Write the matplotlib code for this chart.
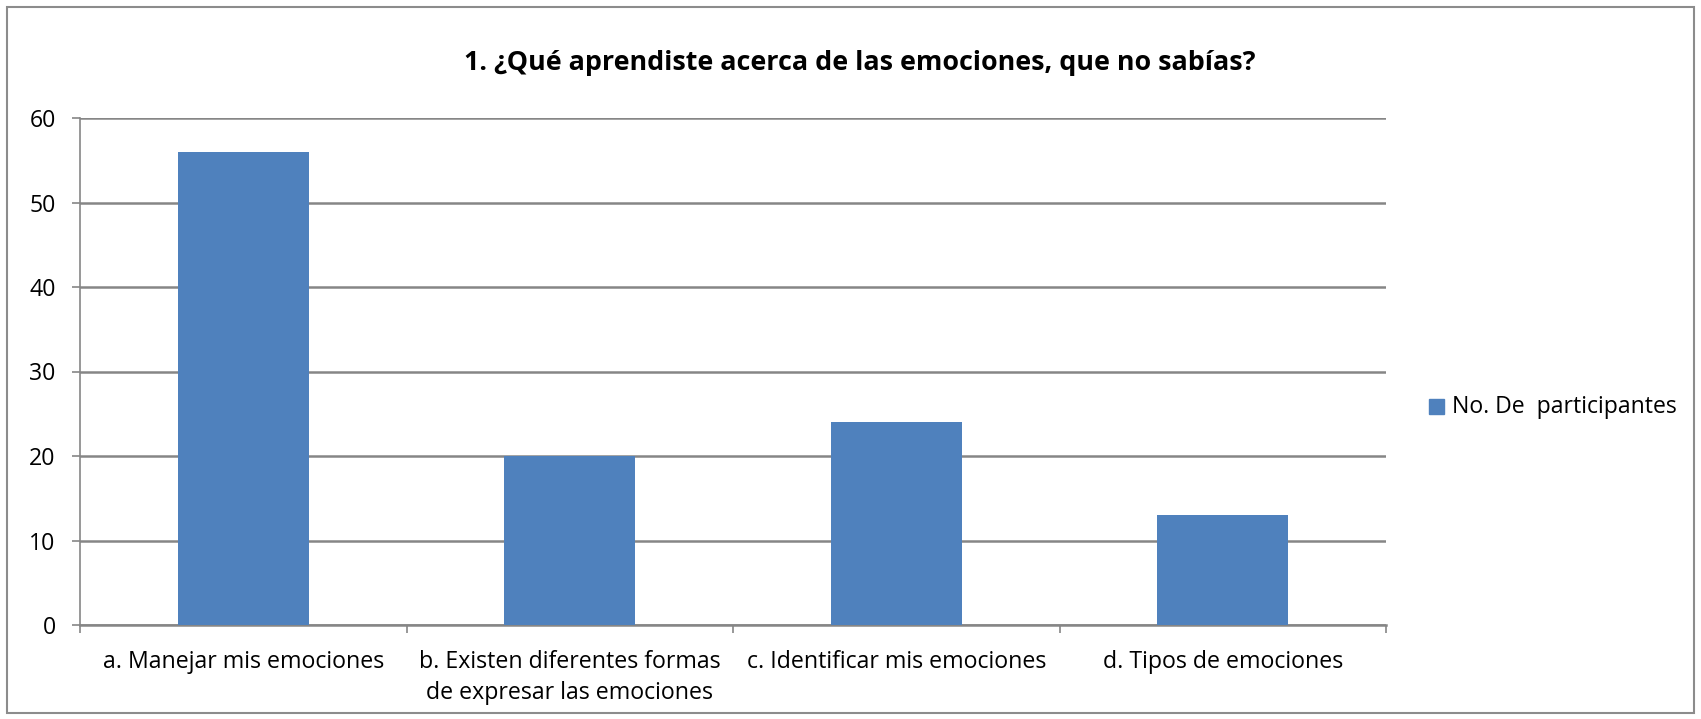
import matplotlib
matplotlib.use("Agg")
import matplotlib.pyplot as plt
from matplotlib.patches import Rectangle

categories = ["a. Manejar mis emociones",
              "b. Existen diferentes formas\nde expresar las emociones",
              "c. Identificar mis emociones",
              "d. Tipos de emociones"]
values = [56, 20, 24, 13]
series_name = "No. De  participantes"
title = "1. ¿Qué aprendiste acerca de las emociones, que no sabías?"
yticks = [0, 10, 20, 30, 40, 50, 60]

FONT = ['Open Sans', 'DejaVu Sans']
plt.rcParams['font.family'] = FONT

W, H = 1701, 719
fig = plt.figure(figsize=(W/100, H/100), dpi=100)
renderer = fig.canvas.get_renderer()


def fit_size(text, target_px, weight='normal', start=16.0):
    t = fig.text(0, 0, text, fontsize=start, fontweight=weight)
    w = t.get_window_extent(renderer).width
    t.remove()
    return start * target_px / w


lab_fs = fit_size(categories[0], 281)
leg_fs = fit_size(series_name, 225)
tit_fs = fit_size(title, 794, weight='bold', start=18)
em_px = lab_fs * 100 / 72

ax = fig.add_axes([80/W, 1-625/H, (1386-80)/W, (625-118)/H])

grid_c = "#868686"
x = list(range(len(categories)))
ax.bar(x, values, width=0.4, color="#4F81BD", label=series_name, zorder=3)

ax.set_xlim(-0.5, len(categories)-0.5)
ax.set_ylim(0, 60)
ax.set_yticks(yticks)
ax.yaxis.grid(True, color=grid_c, linewidth=1.8, zorder=0)
ax.set_axisbelow(True)
for s in ["top", "right"]:
    ax.spines[s].set_visible(False)
ax.spines["left"].set_color(grid_c)
ax.spines["bottom"].set_color(grid_c)
ax.spines["left"].set_linewidth(1.2)
ax.spines["bottom"].set_linewidth(1.8)
ax.tick_params(axis='y', length=5.5, color=grid_c, width=1.2,
               labelsize=lab_fs, pad=12)

ax.set_xticks(x)
ax.set_xticklabels(categories, fontsize=lab_fs, linespacing=30/(0.92*em_px))
ax.tick_params(axis='x', which='major', length=0, pad=18)
ax.set_xticks([i-0.5 for i in range(len(categories)+1)], minor=True)
ax.tick_params(axis='x', which='minor', length=6, color=grid_c, width=1.2)

fig.text(860/W, 1-63/H, title, ha='center', va='center',
         fontsize=tit_fs, fontweight='bold')

# legend
fig.patches.append(Rectangle((1429/W, 1-(407+7.5)/H), 15/W, 15/H,
                             transform=fig.transFigure,
                             color="#4F81BD", figure=fig))
fig.text(1452/W, 1-407/H, series_name, ha='left', va='center', fontsize=leg_fs)

# outer border
fig.patches.append(Rectangle((7/W, 6/H), (W-14)/W, (H-13)/H,
                             transform=fig.transFigure, fill=False,
                             edgecolor="#8c8c8c", linewidth=1.5, figure=fig))

fig.savefig("out.png", dpi=100)
